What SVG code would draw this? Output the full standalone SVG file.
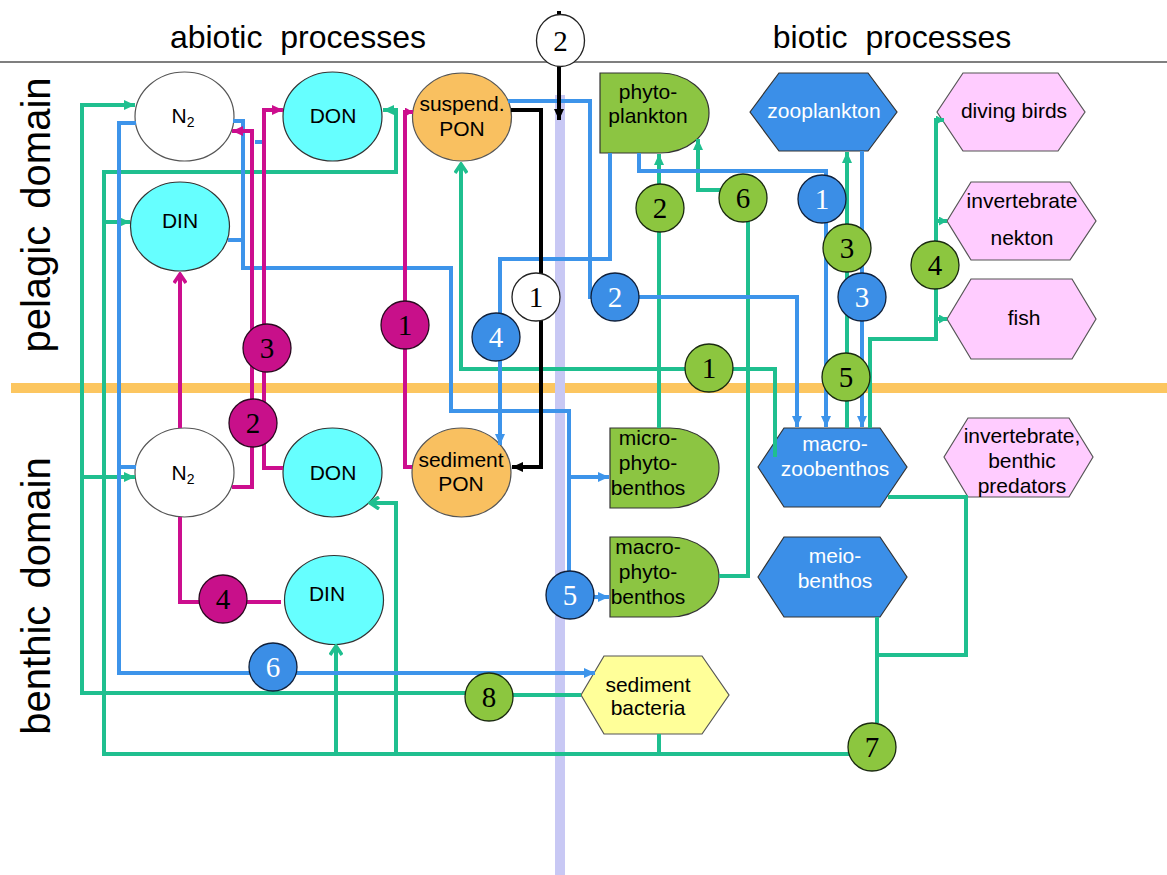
<svg xmlns="http://www.w3.org/2000/svg" width="1167" height="875" viewBox="0 0 1167 875">
<style>
.lg{fill:none;stroke:#1fbf8f;stroke-width:4}
.lb{fill:none;stroke:#3d94ea;stroke-width:4}
.lm{fill:none;stroke:#cc0e8e;stroke-width:4}
.lk{fill:none;stroke:#000;stroke-width:4}
.t{font-family:"Liberation Sans",Arial,sans-serif;font-size:21px;text-anchor:middle;fill:#000}
.tw{fill:#fff}
.n{font-family:"Liberation Serif","Times New Roman",serif;font-size:29px;text-anchor:middle;fill:#000}
.nw{fill:#fff}
.cg{fill:#8cc63f;stroke:#1a2a10;stroke-width:1.3}
.cb{fill:#3b8ee6;stroke:#10203a;stroke-width:1.3}
.cm{fill:#c8108a;stroke:#2a0a20;stroke-width:1.3}
.cw{fill:#fff;stroke:#222;stroke-width:1.3}
.cyan{fill:#66ffff;stroke:#333;stroke-width:1.2}
.wht{fill:#fff;stroke:#555;stroke-width:1.2}
.org{fill:#f9c060;stroke:#555;stroke-width:1.2}
.grn{fill:#8cc542;stroke:#333;stroke-width:1.2}
.blu{fill:#3b8fe8;stroke:#333;stroke-width:1.2}
.pnk{fill:#ffccff;stroke:#555;stroke-width:1.2}
.yel{fill:#ffff99;stroke:#555;stroke-width:1.2}
.hd{font-family:"Liberation Sans",Arial,sans-serif;font-size:32px;text-anchor:middle;word-spacing:9px;fill:#000}
.dm{font-family:"Liberation Sans",Arial,sans-serif;font-size:40px;text-anchor:middle;word-spacing:6px;fill:#000}
</style>
<defs>
<marker id="ag" viewBox="0 0 11 10" markerWidth="11" markerHeight="10" refX="11" refY="5" orient="auto" markerUnits="userSpaceOnUse"><path d="M0,0 L11,5 L0,10 z" fill="#1fbf8f"/></marker>
<marker id="agS" viewBox="0 0 8 9" markerWidth="8" markerHeight="9" refX="8" refY="4.5" orient="auto" markerUnits="userSpaceOnUse"><path d="M0,0 L8,4.5 L0,9 z" fill="#1fbf8f"/></marker>
<marker id="og" viewBox="0 0 12 14" markerWidth="12" markerHeight="14" refX="10" refY="7" orient="auto" markerUnits="userSpaceOnUse"><path d="M1,1 L10,7 L1,13" fill="none" stroke="#1fbf8f" stroke-width="3.5"/></marker>
<marker id="ab" viewBox="0 0 11 10" markerWidth="11" markerHeight="10" refX="11" refY="5" orient="auto" markerUnits="userSpaceOnUse"><path d="M0,0 L11,5 L0,10 z" fill="#3d94ea"/></marker>
<marker id="am" viewBox="0 0 11 10" markerWidth="11" markerHeight="10" refX="11" refY="5" orient="auto" markerUnits="userSpaceOnUse"><path d="M0,0 L11,5 L0,10 z" fill="#cc0e8e"/></marker>
<marker id="amS" viewBox="0 0 8 9" markerWidth="8" markerHeight="9" refX="8" refY="4.5" orient="auto" markerUnits="userSpaceOnUse"><path d="M0,0 L8,4.5 L0,9 z" fill="#cc0e8e"/></marker>
<marker id="om" viewBox="0 0 12 14" markerWidth="12" markerHeight="14" refX="10" refY="7" orient="auto" markerUnits="userSpaceOnUse"><path d="M1,1 L10,7 L1,13" fill="none" stroke="#cc0e8e" stroke-width="3.5"/></marker>
<marker id="ak" viewBox="0 0 11 10" markerWidth="11" markerHeight="10" refX="11" refY="5" orient="auto" markerUnits="userSpaceOnUse"><path d="M0,0 L11,5 L0,10 z" fill="#000"/></marker>
</defs>
<rect width="1167" height="875" fill="#fff"/>
<g id="background">
<rect x="11" y="383" width="1156" height="10" fill="#fcc660"/>
<rect x="555" y="95" width="10" height="780" fill="#c8c8f4"/>
<line x1="0" y1="62" x2="1167" y2="62" stroke="#555" stroke-width="1.5"/>
<text class="hd" x="298" y="48">abiotic processes</text>
<text class="hd" x="892" y="48">biotic processes</text>
<text class="dm" transform="translate(50,215) rotate(-90)">pelagic domain</text>
<text class="dm" transform="translate(50,596) rotate(-90)">benthic domain</text>
</g>
<g id="nodes">
<g id="n2-pelagic"><ellipse class="wht" cx="184.5" cy="116.5" rx="49.5" ry="44.5"/><text class="t" x="183" y="123">N<tspan font-size="14" dy="4">2</tspan></text></g>
<g id="don-pelagic"><ellipse class="cyan" cx="332.5" cy="116.5" rx="49.5" ry="44.5"/><text class="t" x="333" y="123">DON</text></g>
<g id="suspended-pon"><ellipse class="org" cx="462" cy="117" rx="49.5" ry="44"/><text class="t" x="462" y="111">suspend.</text><text class="t" x="462" y="136">PON</text></g>
<g id="din-pelagic"><ellipse class="cyan" cx="180" cy="226.5" rx="49.5" ry="44.5"/><text class="t" x="180" y="228">DIN</text></g>
<g id="n2-benthic"><ellipse class="wht" cx="184.5" cy="472.5" rx="49.5" ry="44.5"/><text class="t" x="183" y="480">N<tspan font-size="14" dy="4">2</tspan></text></g>
<g id="don-benthic"><ellipse class="cyan" cx="332.5" cy="472.5" rx="49.5" ry="44.5"/><text class="t" x="333" y="480">DON</text></g>
<g id="sediment-pon"><ellipse class="org" cx="461.5" cy="472.5" rx="49.5" ry="44.5"/><text class="t" x="461" y="467">sediment</text><text class="t" x="461" y="491">PON</text></g>
<g id="din-benthic"><ellipse class="cyan" cx="334" cy="600" rx="49.5" ry="44.5"/><text class="t" x="327" y="601">DIN</text></g>
<g id="phytoplankton"><path class="grn" d="M600,73 H660 A49,40 0 0 1 660,153 H600 Z"/><text class="t" x="648" y="99">phyto-</text><text class="t" x="648" y="123">plankton</text></g>
<g id="zooplankton"><polygon class="blu" points="750,112 779,73 868,73 897,112 868,151 779,151"/><text class="t tw" x="824" y="118">zooplankton</text></g>
<g id="diving-birds"><polygon class="pnk" points="937,112 963,73 1058,73 1085,112 1058,151 963,151"/><text class="t" x="1014" y="118">diving birds</text></g>
<g id="invertebrate-nekton"><polygon class="pnk" points="947,221 971,182 1070,182 1096,221 1070,260 971,260"/><text class="t" x="1022" y="208">invertebrate</text><text class="t" x="1022" y="245">nekton</text></g>
<g id="fish"><polygon class="pnk" points="947,319 971,279 1072,279 1096,319 1072,359 971,359"/><text class="t" x="1024" y="325">fish</text></g>
<g id="microphytobenthos"><path class="grn" d="M610,428 H670 A49,40 0 0 1 670,508 H610 Z"/><text class="t" x="648" y="445">micro-</text><text class="t" x="648" y="470">phyto-</text><text class="t" x="648" y="495">benthos</text></g>
<g id="macrophytobenthos"><path class="grn" d="M610,537 H670 A49,40 0 0 1 670,617 H610 Z"/><text class="t" x="648" y="554">macro-</text><text class="t" x="648" y="579">phyto-</text><text class="t" x="648" y="604">benthos</text></g>
<g id="macrozoobenthos"><polygon class="blu" points="758,467 784,428 880,428 907,467 880,507 784,507"/><text class="t tw" x="835" y="451">macro-</text><text class="t tw" x="835" y="476">zoobenthos</text></g>
<g id="meiobenthos"><polygon class="blu" points="758,577 784,537 880,537 907,577 880,617 784,617"/><text class="t tw" x="835" y="563">meio-</text><text class="t tw" x="835" y="588">benthos</text></g>
<g id="benthic-predators"><polygon class="pnk" points="944,457 968,418 1069,418 1093,457 1069,497 968,497"/><text class="t" x="1022" y="443">invertebrate,</text><text class="t" x="1022" y="468">benthic</text><text class="t" x="1022" y="493">predators</text></g>
<g id="sediment-bacteria"><polygon class="yel" points="581,695 604,656 702,656 729,695 702,734 604,734"/><text class="t" x="648" y="692">sediment</text><text class="t" x="648" y="715">bacteria</text></g>
</g>
<g id="connectors">
<path class="lb" d="M255,142 H265"/>
<path class="lg" d="M581,695 H489 V693 H82 V105 H135" marker-end="url(#ag)"/>
<path class="lg" d="M82,477 H135" marker-end="url(#ag)"/>
<path class="lg" d="M860,754 H104 V172 H396 V110 H383" marker-end="url(#ag)"/>
<path class="lg" d="M104,222 H130" marker-end="url(#ag)"/>
<path class="lg" d="M336,754 V646" marker-end="url(#og)"/>
<path class="lg" d="M396,754 V503 H370" marker-end="url(#og)"/>
<path class="lg" d="M659,754 V734"/>
<path class="lg" d="M877,723 V617"/>
<path class="lg" d="M877,655 H966 V497 H888"/>
<path class="lg" d="M775,457 V369 H461 V164" marker-end="url(#og)"/>
<path class="lg" d="M659,428 V154" marker-end="url(#ag)"/>
<path class="lg" d="M719,576 H748 V190 H698 V139" marker-end="url(#ag)"/>
<path class="lg" d="M847,428 V152" marker-end="url(#ag)"/>
<path class="lg" d="M870,428 V339 H936 V120 H944" marker-end="url(#agS)"/>
<path class="lg" d="M936,221 H947" marker-end="url(#agS)"/>
<path class="lg" d="M936,319 H947" marker-end="url(#agS)"/>
<path class="lb" d="M508,101 H590 V297 H797 V427" marker-end="url(#ab)"/>
<path class="lb" d="M610,153 V259 H500 V445" marker-end="url(#ab)"/>
<path class="lb" d="M639,153 V171 H826 V427" marker-end="url(#ab)"/>
<path class="lb" d="M862,151 V427" marker-end="url(#ab)"/>
<path class="lb" d="M136,123 H119 V673 H595" marker-end="url(#ab)"/>
<path class="lb" d="M119,467 H136"/>
<path class="lb" d="M233,121 H243 V268 H451 V411 H569 V597 H609" marker-end="url(#ab)"/>
<path class="lb" d="M228,240 H243"/>
<path class="lb" d="M569,477 H609" marker-end="url(#ab)"/>
<path class="lk" d="M559,66 V120" marker-end="url(#ak)"/>
<path class="lk" d="M559,11 V17"/>
<path class="lk" d="M511,110 H541 V467 H512" marker-end="url(#ak)"/>
<path class="lm" d="M412,467 H405 V112 H413" marker-end="url(#amS)"/>
<path class="lm" d="M232,487 H252 V131 H232" marker-end="url(#am)"/>
<path class="lm" d="M283,468 H264 V110 H283" marker-end="url(#am)"/>
<path class="lm" d="M180,428 V274" marker-end="url(#om)"/>
<path class="lm" d="M180,517 V602 H281"/>
</g>
<g id="labels">
<g><ellipse class="cw" cx="560.5" cy="40.5" rx="24" ry="26"/><text class="n" x="560.5" y="50.5">2</text></g>
<g><circle class="cw" cx="536" cy="297" r="24"/><text class="n" x="536" y="307">1</text></g>
<g><circle class="cm" cx="405" cy="325" r="24"/><text class="n" x="405" y="335">1</text></g>
<g><circle class="cm" cx="267" cy="348" r="24"/><text class="n" x="267" y="358">3</text></g>
<g><circle class="cm" cx="253" cy="423" r="24"/><text class="n" x="253" y="433">2</text></g>
<g><circle class="cm" cx="223" cy="599" r="24"/><text class="n" x="223" y="609">4</text></g>
<g><circle class="cb" cx="496" cy="337" r="24"/><text class="n nw" x="496" y="347">4</text></g>
<g><circle class="cb" cx="615" cy="297" r="24"/><text class="n nw" x="615" y="307">2</text></g>
<g><circle class="cb" cx="822" cy="199" r="24"/><text class="n nw" x="822" y="209">1</text></g>
<g><circle class="cg" cx="847" cy="248" r="24"/><text class="n" x="847" y="258">3</text></g>
<g><circle class="cb" cx="862" cy="297" r="24"/><text class="n nw" x="862" y="307">3</text></g>
<g><circle class="cb" cx="570" cy="595" r="24"/><text class="n nw" x="570" y="605">5</text></g>
<g><circle class="cb" cx="273" cy="667" r="24"/><text class="n nw" x="273" y="677">6</text></g>
<g><circle class="cg" cx="660" cy="208" r="24"/><text class="n" x="660" y="218">2</text></g>
<g><circle class="cg" cx="743" cy="198" r="24"/><text class="n" x="743" y="208">6</text></g>
<g><circle class="cg" cx="935" cy="265" r="24"/><text class="n" x="935" y="275">4</text></g>
<g><circle class="cg" cx="709" cy="368" r="24"/><text class="n" x="709" y="378">1</text></g>
<g><circle class="cg" cx="846" cy="377" r="24"/><text class="n" x="846" y="387">5</text></g>
<g><circle class="cg" cx="489" cy="697" r="24"/><text class="n" x="489" y="707">8</text></g>
<g><circle class="cg" cx="872" cy="747" r="24"/><text class="n" x="872" y="757">7</text></g>
</g>
</svg>
